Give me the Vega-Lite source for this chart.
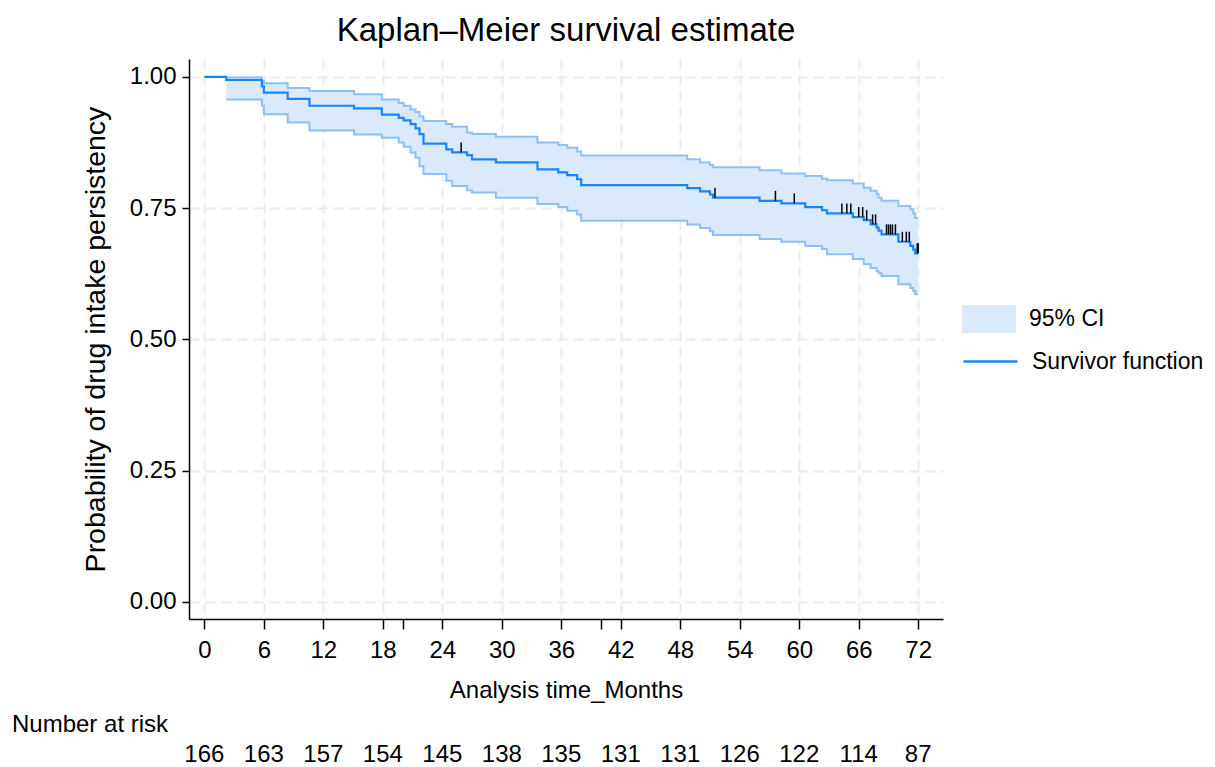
{
  "$schema": "https://vega.github.io/schema/vega-lite/v6.json",
  "background": "white",
  "padding": {"left": 12, "top": 15, "right": 0, "bottom": 0},
  "autosize": {"type": "pad"},
  "bounds": "flush",
  "spacing": 124,
  "config": {
    "view": {"stroke": null},
    "font": "Liberation Sans",
    "axis": {
      "labelFont": "Liberation Sans",
      "titleFont": "Liberation Sans",
      "labelColor": "black",
      "titleColor": "black",
      "titleFontWeight": "normal",
      "domainColor": "black",
      "tickColor": "black",
      "domainWidth": 1.5,
      "tickWidth": 1.5,
      "gridColor": "#ebebeb",
      "gridDash": [10, 6],
      "gridWidth": 2
    }
  },
  "datasets": {
    "km": [
      {"t": 0, "s": 1.0, "lo": null, "hi": null},
      {"t": 2.2, "s": 0.994, "lo": 0.957, "hi": 0.999},
      {"t": 5.8, "s": 0.982, "lo": 0.945, "hi": 0.992},
      {"t": 6.0, "s": 0.970, "lo": 0.929, "hi": 0.988},
      {"t": 8.4, "s": 0.958, "lo": 0.913, "hi": 0.979},
      {"t": 10.6, "s": 0.945, "lo": 0.898, "hi": 0.973},
      {"t": 15.1, "s": 0.940, "lo": 0.890, "hi": 0.967},
      {"t": 17.9, "s": 0.928, "lo": 0.884, "hi": 0.957},
      {"t": 19.6, "s": 0.922, "lo": 0.875, "hi": 0.950},
      {"t": 20.1, "s": 0.917, "lo": 0.867, "hi": 0.945},
      {"t": 20.8, "s": 0.910, "lo": 0.856, "hi": 0.938},
      {"t": 21.3, "s": 0.902, "lo": 0.846, "hi": 0.933},
      {"t": 21.7, "s": 0.891, "lo": 0.830, "hi": 0.925},
      {"t": 22.1, "s": 0.873, "lo": 0.815, "hi": 0.916},
      {"t": 24.4, "s": 0.862, "lo": 0.802, "hi": 0.910},
      {"t": 25.0, "s": 0.856, "lo": 0.792, "hi": 0.905},
      {"t": 26.5, "s": 0.851, "lo": 0.784, "hi": 0.894},
      {"t": 27.0, "s": 0.843, "lo": 0.780, "hi": 0.891},
      {"t": 29.4, "s": 0.837, "lo": 0.770, "hi": 0.886},
      {"t": 33.6, "s": 0.824, "lo": 0.758, "hi": 0.875},
      {"t": 35.7, "s": 0.818, "lo": 0.752, "hi": 0.870},
      {"t": 36.6, "s": 0.813, "lo": 0.745, "hi": 0.865},
      {"t": 37.6, "s": 0.805, "lo": 0.738, "hi": 0.858},
      {"t": 38.0, "s": 0.794, "lo": 0.726, "hi": 0.850},
      {"t": 48.7, "s": 0.788, "lo": 0.719, "hi": 0.843},
      {"t": 50.0, "s": 0.782, "lo": 0.712, "hi": 0.837},
      {"t": 51.0, "s": 0.776, "lo": 0.706, "hi": 0.832},
      {"t": 51.3, "s": 0.770, "lo": 0.699, "hi": 0.828},
      {"t": 56.0, "s": 0.764, "lo": 0.691, "hi": 0.822},
      {"t": 58.2, "s": 0.759, "lo": 0.686, "hi": 0.816},
      {"t": 60.6, "s": 0.752, "lo": 0.678, "hi": 0.811},
      {"t": 62.3, "s": 0.746, "lo": 0.672, "hi": 0.806},
      {"t": 62.8, "s": 0.740, "lo": 0.662, "hi": 0.803},
      {"t": 65.4, "s": 0.733, "lo": 0.653, "hi": 0.797},
      {"t": 66.5, "s": 0.727, "lo": 0.643, "hi": 0.789},
      {"t": 67.2, "s": 0.719, "lo": 0.636, "hi": 0.783},
      {"t": 67.8, "s": 0.713, "lo": 0.630, "hi": 0.777},
      {"t": 68.0, "s": 0.707, "lo": 0.626, "hi": 0.770},
      {"t": 68.3, "s": 0.700, "lo": 0.621, "hi": 0.764},
      {"t": 70.0, "s": 0.686, "lo": 0.605, "hi": 0.754},
      {"t": 71.2, "s": 0.678, "lo": 0.598, "hi": 0.748},
      {"t": 71.5, "s": 0.671, "lo": 0.592, "hi": 0.740},
      {"t": 71.7, "s": 0.664, "lo": 0.586, "hi": 0.731},
      {"t": 72.0, "s": 0.664, "lo": 0.586, "hi": 0.731}
    ],
    "censor": [
      {"t": 25.9, "s": 0.856}, {"t": 51.5, "s": 0.770}, {"t": 57.6, "s": 0.764},
      {"t": 59.5, "s": 0.759}, {"t": 64.3, "s": 0.740}, {"t": 64.8, "s": 0.740},
      {"t": 65.2, "s": 0.740}, {"t": 66.0, "s": 0.733}, {"t": 66.4, "s": 0.733},
      {"t": 66.8, "s": 0.727}, {"t": 67.4, "s": 0.719}, {"t": 67.7, "s": 0.719},
      {"t": 68.8, "s": 0.700}, {"t": 69.0, "s": 0.700}, {"t": 69.2, "s": 0.700},
      {"t": 69.4, "s": 0.700}, {"t": 69.7, "s": 0.700}, {"t": 70.4, "s": 0.686},
      {"t": 70.8, "s": 0.686}, {"t": 71.1, "s": 0.686}, {"t": 71.9, "s": 0.664},
      {"t": 72.0, "s": 0.664}
    ],
    "risk": [
      {"t": 0, "n": 166}, {"t": 6, "n": 163}, {"t": 12, "n": 157}, {"t": 18, "n": 154},
      {"t": 24, "n": 145}, {"t": 30, "n": 138}, {"t": 36, "n": 135}, {"t": 42, "n": 131},
      {"t": 48, "n": 131}, {"t": 54, "n": 126}, {"t": 60, "n": 122}, {"t": 66, "n": 114},
      {"t": 72, "n": 87}
    ]
  },
  "resolve": {"scale": {"x": "independent"}},
  "vconcat": [
    {
      "width": 754,
      "height": 560,
      "title": {
        "text": "Kaplan–Meier survival estimate",
        "font": "Liberation Sans",
        "fontSize": 33,
        "fontWeight": "normal",
        "color": "black",
        "anchor": "middle",
        "frame": "group",
        "offset": 11
      },
      "layer": [
        {
          "data": {"name": "km"},
          "mark": {"type": "area", "interpolate": "step-after", "opacity": 1},
          "encoding": {
            "x": {
              "field": "t", "type": "quantitative",
              "scale": {"domain": [-1.55, 74.5], "nice": false, "zero": false},
              "axis": {
                "values": [0, 6, 12, 18, 20, 24, 30, 36, 40, 42, 48, 54, 60, 66, 72],
                "labelExpr": "datum.value == 20 || datum.value == 40 ? '' : datum.label",
                "title": "Analysis time_Months",
                "titleFontSize": 24,
                "labelFontSize": 24,
                "tickSize": 10,
                "labelPadding": 9,
                "titlePadding": 16,
                "grid": true,
                "gridOpacity": {"condition": {"test": "datum.value == 20 || datum.value == 40", "value": 0}, "value": 1}
              }
            },
            "y": {
              "field": "lo", "type": "quantitative",
              "scale": {"domain": [-0.0324, 1.034], "nice": false, "zero": false},
              "axis": {
                "values": [0, 0.25, 0.5, 0.75, 1],
                "format": ".2f",
                "title": "Probability of drug intake persistency",
                "titleFontSize": 28.5,
                "titlePadding": 19,
                "labelFontSize": 24,
                "tickSize": 7,
                "labelPadding": 6,
                "grid": true
              }
            },
            "y2": {"field": "hi"},
            "fill": {
              "datum": "95% CI", "type": "nominal",
              "scale": {"range": ["#dbe9fc"]},
              "legend": {
                "title": null, "orient": "none", "legendX": 773, "legendY": 233,
                "symbolType": "M-1,-0.52H1V0.52H-1Z", "symbolSize": 2916,
                "symbolStrokeWidth": 0, "symbolOpacity": 1,
                "labelFont": "Liberation Sans", "labelFontSize": 23, "labelLimit": 400,
                "labelColor": "black", "labelOffset": 13, "padding": 0
              }
            }
          }
        },
        {
          "data": {"name": "km"},
          "mark": {"type": "line", "interpolate": "step-after", "color": "#8cc0f8", "strokeWidth": 2},
          "encoding": {
            "x": {"field": "t", "type": "quantitative"},
            "y": {"field": "lo", "type": "quantitative"}
          }
        },
        {
          "data": {"name": "km"},
          "mark": {"type": "line", "interpolate": "step-after", "color": "#8cc0f8", "strokeWidth": 2},
          "encoding": {
            "x": {"field": "t", "type": "quantitative"},
            "y": {"field": "hi", "type": "quantitative"}
          }
        },
        {
          "data": {"name": "km"},
          "mark": {"type": "line", "interpolate": "step-after", "strokeWidth": 2.2},
          "encoding": {
            "x": {"field": "t", "type": "quantitative"},
            "y": {"field": "s", "type": "quantitative"},
            "stroke": {
              "datum": "Survivor function", "type": "nominal",
              "scale": {"range": ["#1a86f5"]},
              "legend": {
                "title": null, "orient": "none", "legendX": 773, "legendY": 274,
                "symbolType": "stroke", "symbolSize": 2916, "symbolStrokeWidth": 2.5,
                "labelFont": "Liberation Sans", "labelFontSize": 23, "labelLimit": 400,
                "labelColor": "black", "labelOffset": 13, "padding": 0
              }
            }
          }
        },
        {
          "data": {"name": "censor"},
          "mark": {"type": "tick", "orient": "vertical", "color": "black", "size": 10, "thickness": 1.5, "yOffset": -5, "opacity": 1},
          "encoding": {
            "x": {"field": "t", "type": "quantitative"},
            "y": {"field": "s", "type": "quantitative"}
          }
        }
      ]
    },
    {
      "width": 754,
      "height": 24,
      "title": {
        "text": "Number at risk",
        "font": "Liberation Sans",
        "fontSize": 24,
        "fontWeight": "normal",
        "color": "black",
        "anchor": "start",
        "frame": "group",
        "dx": -177,
        "offset": 6
      },
      "data": {"name": "risk"},
      "mark": {"type": "text", "font": "Liberation Sans", "fontSize": 24, "baseline": "middle", "color": "black"},
      "encoding": {
        "x": {
          "field": "t", "type": "quantitative",
          "scale": {"domain": [-1.55, 74.5], "nice": false, "zero": false},
          "axis": null
        },
        "text": {"field": "n", "type": "quantitative"}
      }
    }
  ]
}
